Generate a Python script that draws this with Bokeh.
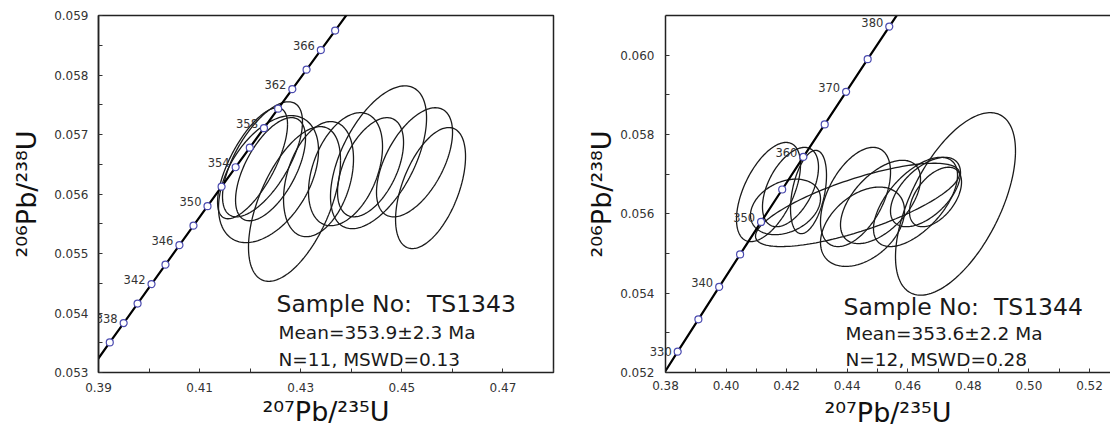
import math
import numpy as np
from bokeh.plotting import figure
from bokeh.layouts import row
from bokeh.models import (Range1d, FixedTicker, NumeralTickFormatter, Label, LabelSet,
                          ColumnDataSource, LinearAxis)
from bokeh.core.properties import value
from bokeh.embed import file_html
from bokeh.resources import INLINE

# ------------------------------------------------------------------ data
# Sample TS1343 -- concordia (age in Ma, 207Pb/235U, 206Pb/238U)
a_ages = [330, 332, 334, 336, 338, 340, 342, 344, 346, 348, 350, 352, 354, 356,
          358, 360, 362, 364, 366, 368, 370, 372]
a_conc_x = [0.38403, 0.38676, 0.38949, 0.39223, 0.39498, 0.39773, 0.40049, 0.40325,
            0.40601, 0.40879, 0.41156, 0.41435, 0.41713, 0.41993, 0.42273, 0.42553,
            0.42834, 0.43116, 0.43398, 0.43681, 0.43964, 0.44248]
a_conc_y = [0.052524, 0.052851, 0.053178, 0.053505, 0.053831, 0.054158, 0.054486,
            0.054813, 0.055140, 0.055468, 0.055795, 0.056123, 0.056450, 0.056778,
            0.057106, 0.057434, 0.057762, 0.058090, 0.058419, 0.058747, 0.059076,
            0.059404]
a_label_ages = [338, 342, 346, 350, 354, 358, 362, 366]
# analyses: centre, 2-sigma half extents, error correlation
a_x = [0.42047, 0.42244, 0.42403, 0.42877, 0.42363, 0.43352, 0.43886, 0.44381,
       0.44539, 0.45251, 0.45568]
a_y = [0.056517, 0.056583, 0.056417, 0.055833, 0.056250, 0.056250, 0.056417,
       0.056450, 0.056617, 0.056533, 0.056100]
a_ex = [0.00692, 0.00791, 0.00692, 0.00910, 0.00989, 0.00692, 0.00732, 0.00653,
        0.00950, 0.00752, 0.00692]
a_ey = [0.000933, 0.000967, 0.000867, 0.001300, 0.001067, 0.000967, 0.000950,
        0.000833, 0.001200, 0.000917, 0.001017]
a_rho = [0.70, 0.65, 0.60, 0.56, 0.45, 0.35, 0.40, 0.50, 0.55, 0.55, 0.52]
a_xticks = [0.39, 0.41, 0.43, 0.45, 0.47]
a_xminor = [0.40, 0.42, 0.44, 0.46, 0.48]
a_yticks = [0.053, 0.054, 0.055, 0.056, 0.057, 0.058, 0.059]
a_yminor = [0.0535, 0.0545, 0.0555, 0.0565, 0.0575, 0.0585]
a_text = ["Sample No:\u00a0 TS1343", "Mean=353.9\u00b12.3 Ma", "N=11, MSWD=0.13"]

# Sample TS1344
b_ages = [325, 330, 335, 340, 345, 350, 355, 360, 365, 370, 375, 380, 385]
b_conc_x = [0.37723, 0.38403, 0.39086, 0.39773, 0.40463, 0.41156, 0.41853, 0.42553,
            0.43257, 0.43964, 0.44675, 0.45389, 0.46107]
b_conc_y = [0.051708, 0.052524, 0.053341, 0.054158, 0.054977, 0.055795, 0.056614,
            0.057434, 0.058255, 0.059076, 0.059898, 0.060720, 0.061543]
b_label_ages = [330, 340, 350, 360, 370, 380]
b_x = [0.41401, 0.42127, 0.42722, 0.41962, 0.44340, 0.44274, 0.44505, 0.45099,
       0.46255, 0.46585, 0.46915, 0.47575]
b_y = [0.056550, 0.056675, 0.056550, 0.056175, 0.056225, 0.056425, 0.055675,
       0.056300, 0.056300, 0.056550, 0.056425, 0.056250]
b_ex = [0.01057, 0.00925, 0.00594, 0.01156, 0.03368, 0.01156, 0.01387, 0.01321,
        0.01387, 0.01156, 0.00859, 0.01981]
b_ey = [0.00125, 0.00100, 0.00105, 0.00070, 0.00105, 0.00125, 0.00100, 0.00105,
        0.001125, 0.000875, 0.00075, 0.00230]
b_rho = [0.55, 0.50, 0.40, 0.30, 0.75, 0.50, 0.40, 0.55, 0.60, 0.55, 0.50, 0.58]
b_xticks = [0.38, 0.40, 0.42, 0.44, 0.46, 0.48, 0.50, 0.52]
b_xminor = [0.39, 0.41, 0.43, 0.45, 0.47, 0.49, 0.51]
b_yticks = [0.052, 0.054, 0.056, 0.058, 0.060]
b_yminor = [0.053, 0.055, 0.057, 0.059]
b_text = ["Sample No:\u00a0 TS1344", "Mean=353.6\u00b12.2 Ma", "N=12, MSWD=0.28"]

x_title = "\u00b2\u2070\u2077Pb/\u00b2\u00b3\u2075U"
y_title = "\u00b2\u2070\u2076Pb/\u00b2\u00b3\u2078U"

# ------------------------------------------------------------------ helpers
FONT = "DejaVu Sans"


def make_fig(width, xr, yr, mb_left, mb_right, mb_top, mb_bottom):
    p = figure(width=width, height=432, x_range=Range1d(*xr), y_range=Range1d(*yr),
               output_backend="svg", toolbar_location=None,
               min_border_left=mb_left, min_border_right=mb_right,
               min_border_top=mb_top, min_border_bottom=mb_bottom)
    p.grid.visible = False
    p.background_fill_color = "white"
    p.border_fill_color = "white"
    return p


def style_axis(ax, ticks, minor, fmt, standoff, title, title_standoff):
    ax.ticker = FixedTicker(ticks=ticks, minor_ticks=minor)
    ax.formatter = NumeralTickFormatter(format=fmt)
    ax.major_label_text_font = FONT
    ax.major_label_text_font_size = "12px"
    ax.major_label_text_color = "#333333"
    ax.major_tick_in = 4
    ax.major_tick_out = 0
    ax.minor_tick_in = 4
    ax.minor_tick_out = 0
    ax.major_tick_line_color = "#333333"
    ax.minor_tick_line_color = "#333333"
    ax.axis_line_color = "#222222"
    ax.axis_line_width = 1.5
    ax.major_label_standoff = standoff
    ax.axis_label = title
    ax.axis_label_text_font = FONT
    ax.axis_label_text_font_size = "27px"
    ax.axis_label_text_font_style = "normal"
    ax.axis_label_text_color = "#111111"
    ax.axis_label_standoff = title_standoff


def ellipse_paths(xs, ys, exs, eys, rhos, n=181):
    t = np.linspace(0, 2 * np.pi, n)
    X, Y = [], []
    for cx, cy, ex, ey, r in zip(xs, ys, exs, eys, rhos):
        X.append(list(cx + ex * np.cos(t)))
        Y.append(list(cy + ey * (r * np.cos(t) + math.sqrt(1 - r * r) * np.sin(t))))
    return X, Y


LBL = dict(text_align="right", text_baseline="alphabetic", text_color="#333333")


def draw_panel(p, ages, cx, cy, label_ages, ex_x, ex_y, ex_ex, ex_ey, ex_rho,
               xmin, ymax, outside_ages=()):
    X, Y = ellipse_paths(ex_x, ex_y, ex_ex, ex_ey, ex_rho)
    p.multi_line(X, Y, line_color="#1a1a1a", line_width=1.3)
    p.line(cx, cy, line_color="black", line_width=2.2)
    keep = [xmin <= x and y <= ymax for x, y in zip(cx, cy)]
    mx = [x for x, k in zip(cx, keep) if k]
    my = [y for y, k in zip(cy, keep) if k]
    p.scatter(mx, my, marker="circle", size=7, fill_color="white",
              line_color="#4b4bb0", line_width=1.2)
    inside = [a for a in label_ages if a not in outside_ages]
    lx = [x for a, x in zip(ages, cx) if a in inside]
    ly = [y for a, y in zip(ages, cy) if a in inside]
    lt = [str(a) for a in ages if a in inside]
    src = ColumnDataSource(dict(x=lx, y=ly, t=lt))
    p.add_layout(LabelSet(source=src, x="x", y="y", text="t", x_offset=-6, y_offset=0,
                          text_font=value(FONT), text_font_size=value("11.5px"), **LBL))
    # labels that stick out past the axis are placed in the side panel (not clipped)
    for a, x, y in zip(ages, cx, cy):
        if a in label_ages and a in outside_ages:
            p.add_layout(Label(x=x, y=y, text=str(a), x_offset=-6, text_font=FONT,
                               text_font_size="11.5px", **LBL), "left")


def add_text(p, to_data, px, py, txt, size):
    x, y = to_data(px, py)
    p.add_layout(Label(x=x, y=y, text=txt, text_font=FONT, text_font_size=size,
                       text_color="#1a1a1a", text_align="left",
                       text_baseline="alphabetic"))


# ------------------------------------------------------------------ left panel
# frame on the canvas: x 98..553, y 15..375
A_XR = (0.39, 0.48)
A_YR = (0.053, 0.059)
p1 = make_fig(560, A_XR, A_YR, 98, 7, 15, 57)
p1.outline_line_color = "#222222"
p1.outline_line_width = 1.5
style_axis(p1.xaxis[0], a_xticks, a_xminor, "0.00", 10, x_title, 1)
style_axis(p1.yaxis[0], a_yticks, a_yminor, "0.000", 10, y_title, 9)
# the frame outline draws the box; the axis line is hidden and its span is widened a
# little to the right so that the title sits where the reference has it
p1.xaxis[0].axis_line_color = None
p1.xaxis[0].bounds = (A_XR[0], A_XR[1] + 0.0048)
draw_panel(p1, a_ages, a_conc_x, a_conc_y, a_label_ages, a_x, a_y, a_ex, a_ey, a_rho,
           A_XR[0], A_YR[1])


def a_to_data(px, py):
    return (A_XR[0] + (px - 98) * (A_XR[1] - A_XR[0]) / 455.0,
            A_YR[1] - (py - 15) * (A_YR[1] - A_YR[0]) / 360.0)


add_text(p1, a_to_data, 276, 306, a_text[0], "23.5px")
add_text(p1, a_to_data, 278, 335, a_text[1], "18.5px")
add_text(p1, a_to_data, 278, 362, a_text[2], "18.5px")

# ------------------------------------------------------------------ right panel
# frame on the canvas: x 665..1110, y 12..372 (figure starts at x 560)
B_XR = (0.38, 0.52693)
B_YR = (0.052, 0.061)
p2 = make_fig(550, B_XR, B_YR, 105, 0, 12, 60)
p2.outline_line_color = None
style_axis(p2.xaxis[0], b_xticks, b_xminor, "0.00", 8, x_title, 4)
style_axis(p2.yaxis[0], b_yticks, b_yminor, "0.000", 11, y_title, 0)
p2.xaxis[0].bounds = (B_XR[0], B_XR[1] + 0.0085)
top = LinearAxis(ticker=FixedTicker(ticks=[]),
                 major_label_text_font_size="0px", major_tick_in=0, major_tick_out=0,
                 minor_tick_in=0, minor_tick_out=0, major_label_standoff=0,
                 axis_line_color="#222222", axis_line_width=1.5)
p2.add_layout(top, "above")
draw_panel(p2, b_ages, b_conc_x, b_conc_y, b_label_ages, b_x, b_y, b_ex, b_ey, b_rho,
           B_XR[0], B_YR[1], outside_ages=(330,))


def b_to_data(px, py):
    return (B_XR[0] + (px - 665) * (B_XR[1] - B_XR[0]) / 445.0,
            B_YR[1] - (py - 12) * (B_YR[1] - B_YR[0]) / 360.0)


add_text(p2, b_to_data, 843, 306, b_text[0], "23.5px")
add_text(p2, b_to_data, 845, 333, b_text[1], "18.5px")
add_text(p2, b_to_data, 845, 359, b_text[2], "18.5px")

layout = row(p1, p2)
open("out.html", "w", encoding="utf-8").write(file_html(layout, INLINE))
